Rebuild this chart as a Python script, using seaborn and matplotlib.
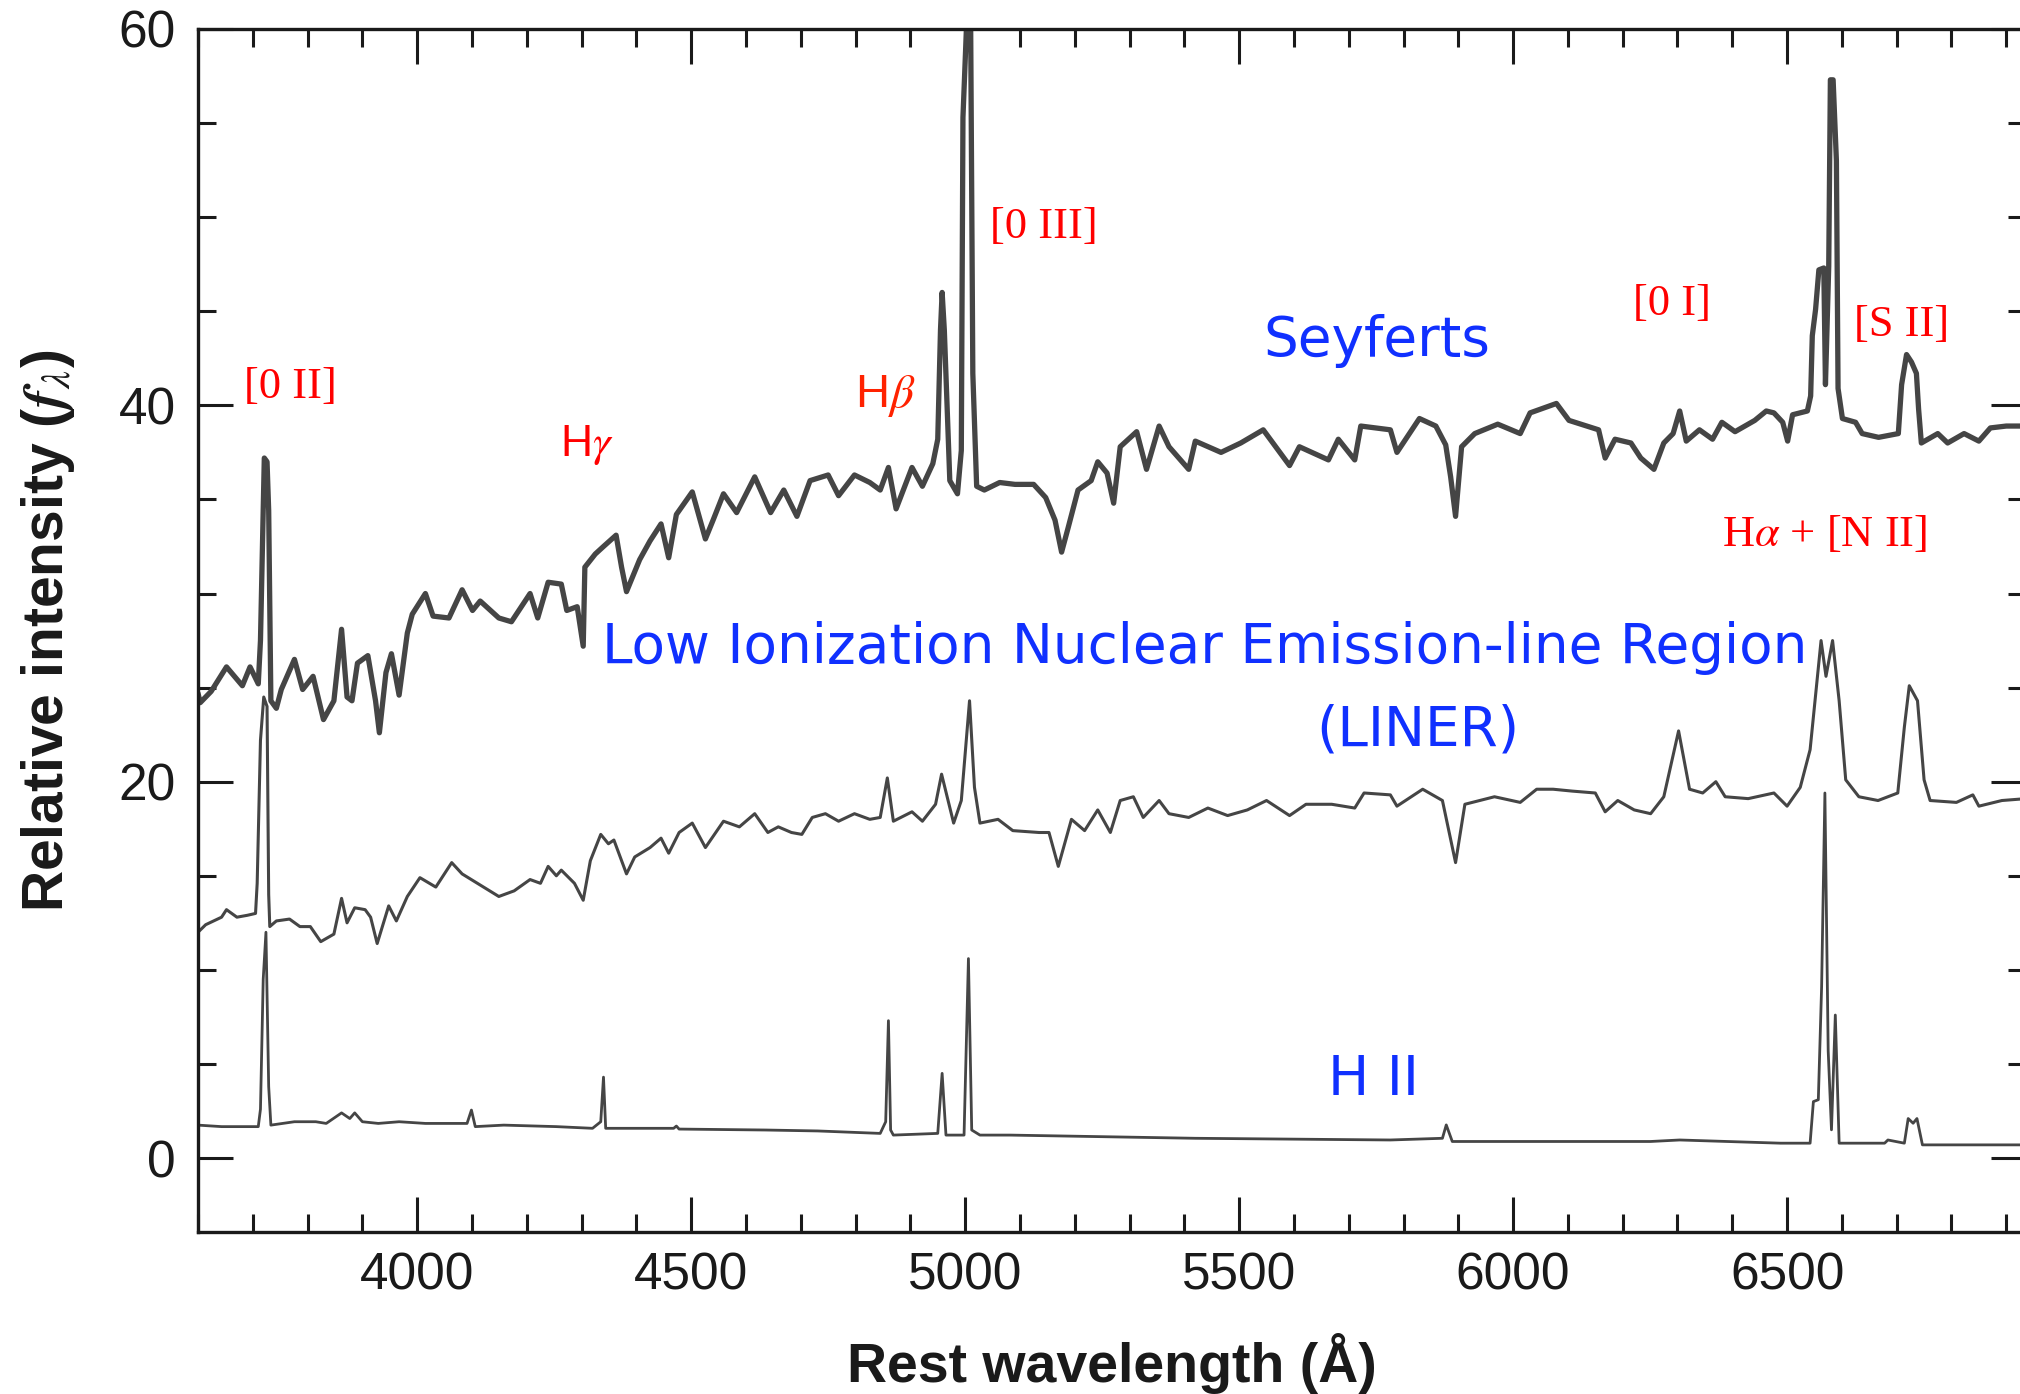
import matplotlib
matplotlib.use("Agg")
import matplotlib.pyplot as plt
from matplotlib.ticker import MultipleLocator, FixedLocator
import seaborn as sns
import pandas as pd

# ---------------- data ----------------
sey_wave = [3600, 3604, 3624, 3652, 3681, 3695, 3710, 3714, 3721, 3726, 3729, 3733, 3743, 3752, 3776,
            3791, 3810, 3829, 3848, 3862, 3872, 3881, 3891, 3910, 3924, 3931, 3943, 3953, 3967, 3982,
            3991, 4015, 4029, 4058, 4082, 4101, 4115, 4149, 4172, 4206, 4220, 4239, 4263, 4273, 4292,
            4303, 4306, 4325, 4340, 4363, 4373, 4382, 4406, 4425, 4445, 4459, 4473, 4502, 4526, 4540,
            4559, 4583, 4616, 4645, 4669, 4693, 4717, 4750, 4769, 4798, 4826, 4845, 4860, 4874, 4903,
            4922, 4941, 4950, 4955, 4958, 4962, 4972, 4986, 4993, 4996, 5003, 5010, 5014, 5021, 5035,
            5063, 5091, 5125, 5147, 5164, 5176, 5188, 5206, 5230, 5242, 5259, 5271, 5283, 5313, 5331,
            5354, 5372, 5408, 5420, 5467, 5503, 5544, 5592, 5610, 5663, 5681, 5711, 5722, 5776, 5788,
            5829, 5859, 5877, 5886, 5895, 5906, 5930, 5972, 6013, 6031, 6079, 6102, 6156, 6168, 6186,
            6215, 6233, 6257, 6275, 6292, 6304, 6316, 6340, 6364, 6381, 6405, 6441, 6462, 6476, 6492,
            6501, 6510, 6537, 6543, 6546, 6552, 6558, 6567, 6570, 6576, 6579, 6584, 6590, 6593, 6601,
            6625, 6637, 6667, 6703, 6709, 6718, 6727, 6736, 6740, 6745, 6775, 6793, 6823, 6850, 6871,
            6900, 6936]
sey_flux = [24.7, 24.2, 24.8, 26.1, 25.1, 26.1, 25.2, 27.5, 37.2, 37.0, 34.4, 24.3, 23.9, 24.9, 26.5,
            24.9, 25.6, 23.3, 24.3, 28.1, 24.5, 24.3, 26.3, 26.7, 24.3, 22.6, 25.8, 26.8, 24.6, 27.9,
            28.9, 30.0, 28.8, 28.7, 30.2, 29.1, 29.6, 28.7, 28.5, 30.0, 28.7, 30.6, 30.5, 29.1, 29.3,
            27.2, 31.4, 32.1, 32.5, 33.1, 31.4, 30.1, 31.8, 32.8, 33.7, 31.9, 34.2, 35.4, 32.9, 33.9,
            35.3, 34.3, 36.2, 34.3, 35.5, 34.1, 36.0, 36.3, 35.2, 36.3, 35.9, 35.5, 36.7, 34.5, 36.7,
            35.7, 36.9, 38.2, 44.0, 46.0, 44.0, 36.0, 35.3, 37.6, 55.3, 60.5, 60.5, 41.7, 35.7, 35.5,
            35.9, 35.8, 35.8, 35.1, 33.9, 32.2, 33.5, 35.5, 36.0, 37.0, 36.4, 34.8, 37.8, 38.6, 36.6,
            38.9, 37.8, 36.6, 38.1, 37.5, 38.0, 38.7, 36.8, 37.8, 37.1, 38.2, 37.1, 38.9, 38.7, 37.5,
            39.3, 38.9, 37.9, 36.2, 34.1, 37.8, 38.5, 39.0, 38.5, 39.6, 40.1, 39.2, 38.7, 37.2, 38.2,
            38.0, 37.2, 36.6, 38.0, 38.5, 39.7, 38.1, 38.7, 38.2, 39.1, 38.6, 39.2, 39.7, 39.6, 39.1,
            38.1, 39.5, 39.7, 40.5, 43.7, 45.1, 47.2, 47.3, 41.1, 47.4, 57.3, 57.3, 53.0, 40.9, 39.3,
            39.1, 38.5, 38.3, 38.5, 41.1, 42.7, 42.3, 41.7, 39.8, 38.0, 38.5, 38.0, 38.5, 38.1, 38.8,
            38.9, 38.9]

liner_wave = [3600, 3614, 3643, 3652, 3671, 3690, 3705, 3708, 3714, 3720, 3726, 3729, 3731, 3743, 3767,
              3786, 3805, 3824, 3848, 3862, 3872, 3886, 3905, 3915, 3927, 3948, 3962, 3982, 4005, 4034,
              4063, 4082, 4110, 4149, 4177, 4206, 4225, 4239, 4254, 4263, 4287, 4303, 4316, 4335, 4349,
              4359, 4382, 4397, 4425, 4445, 4459, 4478, 4502, 4526, 4559, 4588, 4616, 4640, 4659, 4683,
              4702, 4721, 4745, 4769, 4798, 4826, 4845, 4858, 4869, 4903, 4922, 4946, 4957, 4979, 4993,
              5008, 5017, 5027, 5060, 5087, 5135, 5153, 5170, 5194, 5218, 5242, 5265, 5283, 5307, 5325,
              5354, 5372, 5408, 5443, 5479, 5515, 5550, 5592, 5622, 5669, 5711, 5728, 5776, 5788, 5835,
              5871, 5895, 5912, 5966, 6013, 6043, 6073, 6108, 6150, 6168, 6191, 6221, 6251, 6275, 6302,
              6322, 6346, 6370, 6387, 6429, 6476, 6500, 6524, 6542, 6554, 6562, 6571, 6583, 6595, 6607,
              6631, 6666, 6702, 6714, 6723, 6738, 6750, 6761, 6809, 6839, 6850, 6892, 6936]
liner_flux = [12.0, 12.4, 12.8, 13.2, 12.8, 12.9, 13.0, 14.6, 22.2, 24.5, 24.0, 14.0, 12.3, 12.6, 12.7,
              12.3, 12.3, 11.5, 11.9, 13.8, 12.5, 13.3, 13.2, 12.8, 11.4, 13.4, 12.6, 13.9, 14.9, 14.4,
              15.7, 15.1, 14.6, 13.9, 14.2, 14.8, 14.6, 15.5, 15.0, 15.3, 14.6, 13.7, 15.8, 17.2, 16.7,
              16.9, 15.1, 16.0, 16.5, 17.0, 16.2, 17.3, 17.8, 16.5, 17.9, 17.6, 18.3, 17.3, 17.6, 17.3,
              17.2, 18.1, 18.3, 17.9, 18.3, 18.0, 18.1, 20.2, 17.9, 18.4, 17.9, 18.8, 20.4, 17.8, 19.0,
              24.3, 19.7, 17.8, 18.0, 17.4, 17.3, 17.3, 15.5, 18.0, 17.4, 18.5, 17.3, 19.0, 19.2, 18.1,
              19.0, 18.3, 18.1, 18.6, 18.2, 18.5, 19.0, 18.2, 18.8, 18.8, 18.6, 19.4, 19.3, 18.7, 19.6,
              19.0, 15.7, 18.8, 19.2, 18.9, 19.6, 19.6, 19.5, 19.4, 18.4, 19.0, 18.5, 18.3, 19.2, 22.7,
              19.6, 19.4, 20.0, 19.2, 19.1, 19.4, 18.7, 19.7, 21.7, 25.2, 27.5, 25.6, 27.5, 24.3, 20.1,
              19.2, 19.0, 19.4, 22.9, 25.1, 24.3, 20.1, 19.0, 18.9, 19.3, 18.7, 19.0, 19.1]

hii_wave = [3600, 3643, 3710, 3714, 3719, 3724, 3729, 3733, 3776, 3815, 3834, 3862, 3877, 3886, 3900,
            3929, 3967, 4015, 4091, 4099, 4106, 4158, 4254, 4320, 4335, 4340, 4344, 4368, 4468, 4473,
            4478, 4635, 4731, 4845, 4855, 4860, 4864, 4869, 4950, 4958, 4965, 4998, 5006, 5012, 5027,
            5082, 5420, 5776, 5871, 5878, 5889, 6251, 6304, 6488, 6542, 6548, 6557, 6563, 6569, 6575,
            6581, 6588, 6595, 6678, 6684, 6714, 6721, 6730, 6737, 6747, 6936]
hii_flux = [1.75, 1.67, 1.67, 2.6, 9.5, 12.0, 3.8, 1.75, 1.93, 1.93, 1.84, 2.4, 2.1, 2.4, 1.93,
            1.84, 1.93, 1.84, 1.84, 2.55, 1.67, 1.75, 1.67, 1.58, 1.93, 4.3, 1.58, 1.58, 1.58, 1.70,
            1.54, 1.49, 1.44, 1.31, 1.93, 7.3, 1.49, 1.22, 1.31, 4.5, 1.22, 1.22, 10.6, 1.49, 1.22,
            1.22, 1.05, 0.96, 1.05, 1.76, 0.88, 0.88, 0.96, 0.79, 0.79, 3.0, 3.1, 9.1, 19.4, 5.7,
            1.5, 7.6, 0.79, 0.79, 0.96, 0.79, 2.1, 1.85, 2.1, 0.70, 0.70]

x_ticks = [4000, 4500, 5000, 5500, 6000, 6500]
y_ticks = [0, 20, 40, 60]

line_labels = ["[0 II]", r"H$\gamma$", r"H$\beta$", "[0 III]", "[0 I]", "[S II]", r"H$\alpha$ + [N II]"]
line_label_x = [3768, 4310, 4855, 5144, 6290, 6708, 6567]
line_label_y = [40.4, 37.3, 39.9, 48.9, 44.8, 43.7, 32.5]

class_labels = ["Seyferts", "Low Ionization Nuclear Emission-line Region", "(LINER)", "H II"]
class_label_x = [5751, 5438, 5826, 5746]
class_label_y = [42.6, 26.3, 21.9, 3.35]

# ---------------- style ----------------
sns.set_style("ticks")
plt.rcParams["font.family"] = ["Liberation Sans", "DejaVu Sans"]
plt.rcParams["mathtext.fontset"] = "stix"

LINE = "#454545"
RED = "#ff0000"
BLUE = "#1030ff"

fig = plt.figure(figsize=(20.2, 13.94), dpi=100)
W, H = 2020, 1394
left, right, top, bottom = 198, 2026, 29, 1232
ax = fig.add_axes([left / W, 1 - bottom / H, (right - left) / W, (bottom - top) / H])

df_s = pd.DataFrame({"wl": sey_wave, "f": sey_flux})
df_l = pd.DataFrame({"wl": liner_wave, "f": liner_flux})
df_h = pd.DataFrame({"wl": hii_wave, "f": hii_flux})

sns.lineplot(data=df_h, x="wl", y="f", ax=ax, color=LINE, lw=2.0, estimator=None, sort=False)
sns.lineplot(data=df_l, x="wl", y="f", ax=ax, color=LINE, lw=2.2, estimator=None, sort=False)
sns.lineplot(data=df_s, x="wl", y="f", ax=ax, color=LINE, lw=3.8, estimator=None, sort=False)

ax.set_xlim(3600, 6936)
ax.set_ylim(-3.93, 60.0)

ax.xaxis.set_major_locator(FixedLocator(x_ticks))
ax.xaxis.set_minor_locator(MultipleLocator(100))
ax.yaxis.set_major_locator(FixedLocator(y_ticks))
ax.yaxis.set_minor_locator(MultipleLocator(5))
ax.tick_params(which="both", direction="in", top=True, right=True, width=2.2, color="#1a1a1a")
ax.tick_params(which="major", length=25, labelsize=37, pad=14, labelcolor="#1a1a1a")
ax.tick_params(which="minor", length=13)
ax.tick_params(axis="y", which="major", pad=16)
for sp in ax.spines.values():
    sp.set_linewidth(2.4)
    sp.set_color("#1a1a1a")

ax.set_xlabel("Rest wavelength (Å)", fontsize=40, fontweight="bold", color="#1a1a1a")
ax.set_ylabel(r"Relative intensity ($\mathbfit{f}_{\lambda}$)", fontsize=41, fontweight="bold",
              color="#1a1a1a")
ax.xaxis.set_label_coords(0.5, -0.084)
ax.yaxis.set_label_coords(-0.066, 0.5)

# emission-line labels (red)
for t, x, y in zip(line_labels, line_label_x, line_label_y):
    if "gamma" in t or "beta" in t:
        fam = ["Liberation Sans", "DejaVu Sans"]
        size = 32 if "gamma" in t else 34
        col = RED if "gamma" in t else "#ff2200"
    else:
        fam = ["Liberation Serif", "DejaVu Serif"]
        size = 32
        col = RED
    ax.text(x, y, t, color=col, fontsize=size, family=fam, ha="center", va="baseline")

# class labels (blue)
for t, x, y in zip(class_labels, class_label_x, class_label_y):
    ax.text(x, y, t, color=BLUE, fontsize=39.5, family=["DejaVu Sans"], ha="center", va="baseline")

fig.savefig("out.png", dpi=100)
